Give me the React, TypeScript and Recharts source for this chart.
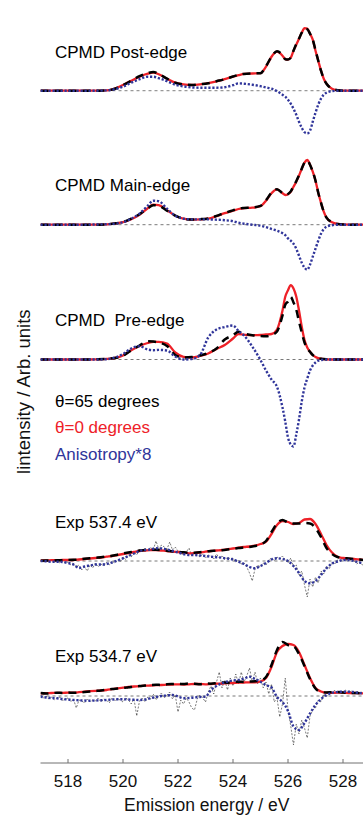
import { LineChart, Line, XAxis, YAxis, ReferenceLine } from "recharts";

// energy grids (eV)
const cpmdEnergy = [
  517, 517.5, 518, 518.5, 519, 519.4, 519.7, 520, 520.3, 520.6, 520.9, 521.1, 521.3, 521.6, 521.9, 522.2, 522.5,
  522.8, 523.1, 523.4, 523.7, 524, 524.2, 524.4, 524.7, 525, 525.2, 525.4, 525.6, 525.8, 525.9, 526, 526.1, 526.2,
  526.3, 526.4, 526.5, 526.6, 526.7, 526.8, 526.9, 527, 527.1, 527.2, 527.3, 527.4, 527.6, 527.8, 528, 528.5, 529,
];
const expEnergy = [
  517, 517.2, 517.4, 517.6, 517.8, 518, 518.2, 518.4, 518.6, 518.8, 519, 519.2, 519.4, 519.6, 519.8, 520, 520.2,
  520.4, 520.6, 520.8, 521, 521.2, 521.4, 521.6, 521.8, 522, 522.2, 522.4, 522.6, 522.8, 523, 523.2, 523.4, 523.6,
  523.8, 524, 524.2, 524.4, 524.6, 524.8, 525, 525.2, 525.4, 525.6, 525.8, 526, 526.2, 526.4, 526.6, 526.8, 527,
  527.2, 527.4, 527.6, 527.8, 528, 528.2, 528.4, 528.6, 528.8, 529,
];
const rawEnergy = [
  517.0, 517.1, 517.2, 517.3, 517.4, 517.5, 517.6, 517.7, 517.8, 517.9,
  518.0, 518.1, 518.2, 518.3, 518.4, 518.5, 518.6, 518.7, 518.8, 518.9,
  519.0, 519.1, 519.2, 519.3, 519.4, 519.5, 519.6, 519.7, 519.8, 519.9,
  520.0, 520.1, 520.2, 520.3, 520.4, 520.5, 520.6, 520.7, 520.8, 520.9,
  521.0, 521.1, 521.2, 521.3, 521.4, 521.5, 521.6, 521.7, 521.8, 521.9,
  522.0, 522.1, 522.2, 522.3, 522.4, 522.5, 522.6, 522.7, 522.8, 522.9,
  523.0, 523.1, 523.2, 523.3, 523.4, 523.5, 523.6, 523.7, 523.8, 523.9,
  524.0, 524.1, 524.2, 524.3, 524.4, 524.5, 524.6, 524.7, 524.8, 524.9,
  525.0, 525.1, 525.2, 525.3, 525.4, 525.5, 525.6, 525.7, 525.8, 525.9,
  526.0, 526.1, 526.2, 526.3, 526.4, 526.5, 526.6, 526.7, 526.8, 526.9,
  527.0, 527.1, 527.2, 527.3, 527.4, 527.5, 527.6, 527.7, 527.8, 527.9,
  528.0, 528.1, 528.2, 528.3, 528.4, 528.5, 528.6, 528.7, 528.8, 528.9,
  529.0,
];

const xTicks = [518, 520, 522, 524, 526, 528];

// vertical offsets of the stacked spectra (arb. units)
const panelOffsets = [672.3, 538.3, 403.5, 202, 67];

// CPMD Post-edge
const post65 = [0, 0, 0, 0, 0, 0.3, 2, 5.5, 10, 14.5, 17.5, 18.8, 16.8, 12, 8, 6.2, 5.8, 6.5, 7.5, 9.5, 11.5, 14.2, 15.8, 16.8, 17.3, 17.5, 24.5, 34, 39.5, 35.5, 31.5, 31.3, 33, 40, 46.5, 52, 58, 62, 61.5, 57, 51, 40.5, 30, 20, 12, 7, 2, 0.5, 0, 0, 0];
const post0 = [0, 0, 0, 0, 0, 0.3, 2, 5.7, 10, 14, 17, 18, 16.5, 12, 8, 6.3, 5.7, 6.3, 7.5, 9.3, 11.5, 14, 15.5, 16.8, 17.2, 17.5, 24, 34, 39, 35, 31.5, 31, 33, 40, 46, 52, 58, 62.5, 62, 57, 51, 40, 30, 20, 12, 7, 2, 0.5, 0, 0, 0];
const postAniso = [0, 0, 0, 0, 0, 0.3, 1.5, 4, 8, 11.5, 14, 14, 12.5, 9.5, 6, 4.3, 3.3, 3, 3, 3, 3.5, 5.5, 7.3, 7, 6, 4.5, 3.2, 2, -0.5, -4, -6, -9, -13, -18, -24, -31, -37, -41.5, -42.7, -40, -31, -22, -14, -8, -4, -2, -0.5, 0, 0, 0, 0];

// CPMD Main-edge
const main65 = [0, 0, 0, 0, 0, 0.3, 1.2, 2.7, 6, 10.5, 16.5, 19.5, 19, 14, 9, 6, 5.2, 5.5, 6.3, 8.8, 11.8, 14.3, 16, 16.7, 17.2, 18.8, 24.5, 32, 35.5, 31.5, 30, 30.7, 33.3, 38.5, 43.5, 49.5, 56, 62, 64, 60, 53, 44, 32, 22, 13, 7, 2.5, 0.8, 0.3, 0, 0];
const main0 = [0, 0, 0, 0, 0, 0.3, 1.2, 2.5, 5.5, 10, 16.5, 20, 19.5, 14.5, 9, 6, 5, 5.3, 6, 8.5, 11.5, 14, 15.7, 16.5, 17, 18.5, 24, 31.5, 35.3, 31.5, 29.7, 30.5, 33, 38, 43, 49, 56, 62, 64.7, 60, 53, 44, 32, 22, 13, 7, 2.5, 0.8, 0.3, 0, 0];
const mainAniso = [0, 0, 0, 0, 0.2, 0.5, 1, 2.5, 6, 11, 19, 24, 23.5, 16, 9, 6, 5.3, 5.3, 5.3, 5, 4.5, 3.5, 2, 1, 0, -1, -2.5, -4.3, -6, -8.5, -10.5, -13.7, -16, -19, -24, -31, -38, -43, -45, -40, -32, -24, -16, -9, -4.5, -2, -0.5, 0, 0, 0, 0];

// CPMD Pre-edge
const pre65 = [0, 0, 0, 0, 0.2, 0.6, 1.5, 4, 9.3, 14, 18.3, 18, 17, 13.5, 4.5, 2, 2.5, 4, 6.5, 11, 20, 24.3, 27.7, 26, 24.3, 23.5, 23.3, 24.5, 28, 44, 54.7, 58, 62.7, 57, 50, 38, 27, 17, 11, 7.7, 4.5, 2.8, 1.5, 0.8, 0.4, 0.2, 0, 0, 0, 0, 0];
const pre0 = [0, 0, 0, 0, 0.2, 0.6, 1.5, 4, 9.3, 13.5, 16.5, 17.7, 17.7, 16, 7, 2.7, 2, 3.5, 6, 10.5, 14.5, 21, 25.3, 24.8, 24.3, 24.5, 25, 25.5, 30, 49, 62.7, 69.3, 74.3, 71, 63, 49, 32.7, 19.5, 12, 7.7, 4.5, 2.5, 1.3, 0.8, 0.4, 0.2, 0, 0, 0, 0, 0];
const preAniso = [0, 0, 0, 0, 0, 0.3, 2, 5.5, 11, 13.3, 10, 9.3, 9.6, 9, 3, 0, 0.5, 4.5, 22, 30, 32.5, 34, 28.5, 24, 13, -0.5, -11, -20, -27.3, -48, -62, -78, -85, -87, -75, -60, -42, -28, -19, -11, -6, -3, -1.2, -0.5, -0.2, 0, 0, 0, 0, 0, 0];

// Exp 537.4 eV
const exp537_65 = [0.3, 0.5, 0.5, 0.7, 0.8, 1, 1.2, 1.5, 2.2, 2.8, 3.3, 3.7, 4.5, 5.3, 6.3, 7.5, 8.5, 9.5, 10.5, 11, 11.5, 11.2, 10.8, 10.3, 9.5, 9, 8.7, 8.3, 8.3, 8.7, 9.5, 10, 10.3, 10.8, 11.5, 12.3, 13, 13.5, 14, 15, 16.5, 20, 29, 37.5, 41, 38.5, 37.5, 37.5, 38, 37.5, 33, 24, 13, 7, 4, 3, 2.5, 2, 1.5, 1, 1];
const exp537_0 = [0.5, 0.5, 0.8, 0.8, 1, 1, 1, 1.5, 2, 2.5, 3, 3.5, 4.3, 5, 6, 7, 8, 9, 10, 10.5, 11, 11, 10.5, 10, 9.3, 9, 8.5, 7.7, 8, 8.5, 9.3, 10, 10.5, 11, 11.8, 12.5, 13.3, 14, 14.5, 15.3, 17, 19.3, 27, 36, 40, 39, 37, 38, 41.5, 42, 37, 27, 16, 8.5, 4.3, 3, 2.3, 2, 1.5, 1, 1];
const exp537Aniso = [0, -0.3, -0.7, -0.7, -1, -2, -3.5, -7, -5.5, -4.5, -3.5, -3.5, -3, -1.5, 0.5, 2.7, 5, 7.5, 10, 11, 11.5, 12.7, 12.5, 11.5, 10, 8.5, 7, 6, 6, 5.5, 5, 4.3, 3.8, 3.3, 2.5, 1.5, -0.7, -3, -6, -7.3, -5, -2, 1.5, 2.7, 2, 0, -5, -12, -20, -22.3, -20, -14, -7.3, -2.5, -0.5, 1, 1, 0, -1.5, -2.3, -1.5];
const exp537Raw = [
  0.5, -1, 0.8, -0.5, 1, -1.5, 0, -1.8, 0.3, -2,
  -1, -4, -2.5, -6, -4, -9, -6, -10, -4, -7,
  -2, -6, -3, -5, -1.5, -4, 0, -2, 1, -1,
  4, 1.5, 6, 4, 9, 6, 12, 9, 13, 10,
  14, 11, 20, 12, 16, 14, 12, 19, 11, 14,
  10, 8, 6, 9, 13, 5, 8, 6, 4, 7,
  3, 6, 5, 2, 7, 3, 5, 1, 4, 2,
  3, -1, 1, -3, -2, -6, -12, -20, -8, -4,
  -6, -2, -4, 1, 3, 0, 4, 2, 5, 1,
  -2, 3, -6, -4, -14, -10, -24, -36, -18, -26,
  -16, -22, -10, -13, -5, -8, -1, -3, 1, 0,
  2, 0, 3, -1, 1, -3, -1, -4, -2, -3,
  -1,
];

// Exp 534.7 eV
const exp534_65 = [3, 2.5, 2.8, 3.3, 3, 3.5, 3.2, 3.5, 4, 4.5, 5, 5.5, 6.2, 7, 7.5, 8, 8.7, 9.3, 10, 10.5, 11, 11.3, 11, 11.7, 12, 12.2, 12, 12.5, 12.3, 11.8, 12.5, 12.3, 12.8, 13.5, 13.3, 14, 14.3, 14, 14.5, 14.7, 15.5, 19, 31, 46, 54, 51, 50, 42, 30, 17, 7.5, 4, 3.5, 3.8, 4, 3.5, 3.2, 3, 2.8, 2.7, 2.7];
const exp534_0 = [2.7, 2.8, 3, 3.1, 3.2, 3.3, 3.4, 3.8, 4.3, 4.8, 5.2, 5.5, 6, 6.8, 7.6, 8.3, 9, 9.5, 9.8, 10.3, 10.5, 10.8, 11, 11.3, 11.5, 11.7, 11.5, 11.7, 12, 12, 11.7, 12, 12.3, 12.5, 12.8, 13, 13.3, 13.5, 13.7, 13.7, 14.5, 18, 29, 44, 50, 52, 51, 44, 31, 18, 8, 4.5, 3.3, 3.2, 3.3, 3.3, 3, 3, 2.8, 2.7, 2.7];
const exp534Aniso = [-0.7, -1.5, -2, -2.3, -3, -3.5, -4, -4.3, -4.5, -4.7, -4.5, -4.2, -4, -3.5, -3.3, -3.3, -3.5, -3.8, -4, -3.5, -2.3, -1, 0, 0.5, 1, -0.5, -2.3, -2, -1.5, -1, -0.7, 6, 10, 12.7, 14.5, 15.5, 16, 17.5, 19.3, 17, 14.3, 11, 8.5, -1, -6, -15, -30.5, -34, -27, -17.5, -9, -3, 1, 3.3, 4, 4.3, 4.3, 3.8, 3, 2.7, 2.7];
const exp534Raw = [
  1, -2, 0, -3, -1, -4, -2, -1, -5, -3,
  -2, -6, -3, -12, -4, -5, -7, -3, -6, -4,
  -5, -2, -6, -3, -4, -7, -2, -5, -3, -4,
  -6, -2, -4, -8, -3, -20, -5, -2, -6, -1,
  -3, 2, -4, 0, 3, -2, 1, 4, -3, 1,
  -16, -4, -8, -2, -6, -12, -14, -3, 1, -2,
  -6, 4, 10, 2, 14, 24, 8, 16, 6, 18,
  10, 22, 12, 24, 14, 20, 28, 14, 24, 12,
  18, 8, 14, 2, 12, -6, -2, -21, -8, 18,
  -14, -30, -49, -28, -38, -24, -32, -42, -20, -14,
  -12, -4, -6, 2, -1, 5, 2, 6, 3, 5,
  4, 6, 3, 5, 2, 5, 3, 4, 2, 3,
  3,
];

const build = (energy: number[], offset: number, a: number[], b?: number[], c?: number[]) =>
  energy.map((e, i) => ({
    energy: e,
    theta65: offset + a[i],
    theta0: b ? offset + b[i] : undefined,
    aniso: c ? offset + c[i] : undefined,
  }));

const panels = [
  { data: build(cpmdEnergy, panelOffsets[0], post65, post0, postAniso) },
  { data: build(cpmdEnergy, panelOffsets[1], main65, main0, mainAniso) },
  { data: build(cpmdEnergy, panelOffsets[2], pre65, pre0, preAniso) },
  { data: build(expEnergy, panelOffsets[3], exp537_65, exp537_0, exp537Aniso), raw: build(rawEnergy, panelOffsets[3], exp537Raw) },
  { data: build(expEnergy, panelOffsets[4], exp534_65, exp534_0, exp534Aniso), raw: build(rawEnergy, panelOffsets[4], exp534Raw) },
];

const FONT = '"Liberation Sans", Arial, Helvetica, sans-serif';
const RED = "#ee2128";
const BLUE = "#30359a";
const AXIS = "#707070";

const BottomTick = (props: any) => {
  const { x, y, payload } = props;
  return (
    <g>
      <line x1={x} x2={x} y1={y} y2={y - 4} stroke={AXIS} />
      <text x={x} y={y + 23.5} textAnchor="middle" fontSize={17} fontFamily={FONT} fill="#111">
        {payload.value}
      </text>
    </g>
  );
};

const TopTick = (props: any) => {
  const { x, y } = props;
  return <line x1={x} x2={x} y1={y} y2={y + 4} stroke={AXIS} />;
};

export default function App() {
  return (
    <div style={{ position: "absolute", left: 0, top: 0, width: 363, height: 815, overflow: "hidden", background: "#fff" }}>
      <LineChart width={371} height={815} margin={{ top: 10, right: 0.5, bottom: 0, left: 40.5 }}>
        <XAxis
          type="number"
          dataKey="energy"
          domain={[517, 529]}
          allowDataOverflow
          ticks={xTicks}
          height={52}
          tickSize={0}
          tickMargin={0}
          tickLine={false}
          tick={<BottomTick />}
          axisLine={{ stroke: AXIS }}
        />
        <XAxis
          xAxisId="top"
          orientation="top"
          type="number"
          dataKey="energy"
          domain={[517, 529]}
          allowDataOverflow
          ticks={xTicks}
          height={0}
          tickSize={0}
          tickMargin={0}
          tickLine={false}
          tick={<TopTick />}
          axisLine={{ stroke: AXIS }}
        />
        <YAxis type="number" domain={[0, 753]} width={0} tick={false} tickLine={false} axisLine={{ stroke: AXIS }} />
        {panelOffsets.map((o, i) => (
          <ReferenceLine
            key={"base" + i}
            y={o}
            stroke={i === 0 ? "#999" : "#555"}
            strokeWidth={i === 0 ? 1.2 : 0.8}
            strokeDasharray="3 3"
          />
        ))}
        {panels.map((p, i) =>
          p.raw ? (
            <Line
              key={"raw" + i}
              data={p.raw}
              dataKey="theta65"
              type="linear"
              stroke="#222"
              strokeWidth={0.6}
              strokeDasharray="2 1.5"
              dot={false}
              activeDot={false}
              isAnimationActive={false}
            />
          ) : null
        )}
        {panels.map((p, i) => (
          <Line
            key={"red" + i}
            data={p.data}
            dataKey="theta0"
            type="monotone"
            stroke={RED}
            strokeWidth={2.3}
            dot={false}
            activeDot={false}
            isAnimationActive={false}
          />
        ))}
        {panels.map((p, i) => (
          <Line
            key={"black" + i}
            data={p.data}
            dataKey="theta65"
            type="monotone"
            stroke="#000"
            strokeWidth={2.5}
            strokeDasharray="8 6"
            dot={false}
            activeDot={false}
            isAnimationActive={false}
          />
        ))}
        {panels.map((p, i) => (
          <Line
            key={"blue" + i}
            data={p.data}
            dataKey="aniso"
            type="monotone"
            stroke={BLUE}
            strokeWidth={2.4}
            strokeDasharray="2.2 1.8"
            dot={false}
            activeDot={false}
            isAnimationActive={false}
          />
        ))}
      </LineChart>
      <svg
        width={363}
        height={815}
        style={{ position: "absolute", left: 0, top: 0, pointerEvents: "none" }}
        fontFamily={FONT}
      >
        <g fontSize={17} fill="#000">
          <text x={55} y={58}>CPMD Post-edge</text>
          <text x={55} y={191}>CPMD Main-edge</text>
          <text x={55} y={326} style={{ whiteSpace: "pre" }}>CPMD  Pre-edge</text>
          <text x={55} y={407}>θ=65 degrees</text>
          <text x={55} y={433} fill={RED}>θ=0 degrees</text>
          <text x={55} y={460} fill={BLUE}>Anisotropy*8</text>
          <text x={55} y={528}>Exp 537.4 eV</text>
          <text x={55} y={662}>Exp 534.7 eV</text>
        </g>
        <text transform="translate(30,391.7) rotate(-90)" textAnchor="middle" fontSize={18.5} fill="#111">
          lintensity / Arb. units
        </text>
        <text x={206.7} y={810.5} textAnchor="middle" fontSize={17.5} fill="#111">
          Emission energy / eV
        </text>
      </svg>
    </div>
  );
}
